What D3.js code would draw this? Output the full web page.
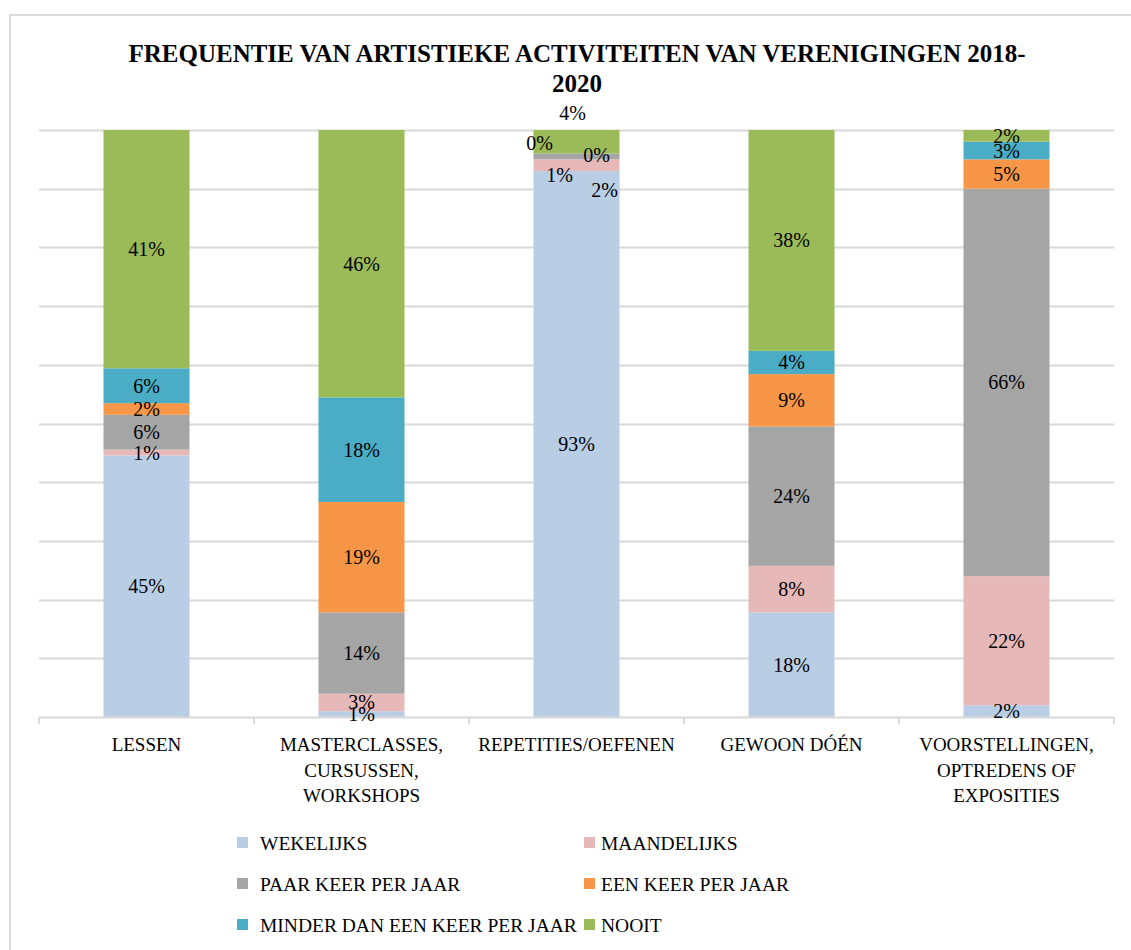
<!DOCTYPE html>
<html>
<head>
<meta charset="utf-8">
<script src="https://cdn.jsdelivr.net/npm/d3@7"></script>
<style>
  body { margin: 0; background: #fff; }
  text { font-family: "Liberation Serif", "DejaVu Serif", serif; fill: #000; }
</style>
</head>
<body>
<div id="chart"></div>
<script>
const categories = [
  "LESSEN",
  "MASTERCLASSES, CURSUSSEN, WORKSHOPS",
  "REPETITIES/OEFENEN",
  "GEWOON DÓÉN",
  "VOORSTELLINGEN, OPTREDENS OF EXPOSITIES"
];
const categoryLines = [
  ["LESSEN"],
  ["MASTERCLASSES,", "CURSUSSEN,", "WORKSHOPS"],
  ["REPETITIES/OEFENEN"],
  ["GEWOON DÓÉN"],
  ["VOORSTELLINGEN,", "OPTREDENS OF", "EXPOSITIES"]
];
const seriesNames = [
  "WEKELIJKS",
  "MAANDELIJKS",
  "PAAR KEER PER JAAR",
  "EEN KEER PER JAAR",
  "MINDER DAN EEN KEER PER JAAR",
  "NOOIT"
];
const seriesColors = ["#B9CDE5", "#E6B9B8", "#A5A5A5", "#F79646", "#4BACC6", "#9BBB59"];

// percentages per category, one array per series
const wekelijks    = [45, 1, 93, 18, 2];
const maandelijks  = [1, 3, 2, 8, 22];
const paarKeer     = [6, 14, 1, 24, 66];
const eenKeer      = [2, 19, 0, 9, 5];
const minderDanEen = [6, 18, 0, 4, 3];
const nooit        = [41, 46, 4, 38, 2];
const seriesValues = [wekelijks, maandelijks, paarKeer, eenKeer, minderDanEen, nooit];

const title = ["FREQUENTIE VAN ARTISTIEKE ACTIVITEITEN VAN VERENIGINGEN 2018-", "2020"];

// manual label nudges (px) for the crowded REPETITIES bar: [dx, dy] per series
const labelNudge = {
  2: [[0, 0], [28, 25], [-17, 19], [20, 2], [-37, -10], [-4, -29]]
};

const width = 1131, height = 950;
const margin = { top: 130, right: 17, bottom: 233, left: 39 };

const svg = d3.select("#chart").append("svg")
  .attr("width", width)
  .attr("height", height);

// outer chart border
svg.append("rect")
  .attr("x", 10).attr("y", 15)
  .attr("width", width + 20).attr("height", height + 20)
  .attr("fill", "none")
  .attr("stroke", "#d9d9d9")
  .attr("stroke-width", 2);

const table = categories.map((c, i) => {
  const row = { category: c, index: i };
  seriesNames.forEach((s, j) => { row[s] = seriesValues[j][i]; });
  return row;
});

const stack = d3.stack()
  .keys(seriesNames)
  .offset(d3.stackOffsetExpand);
const stacked = stack(table);

const x = d3.scaleBand()
  .domain(categories)
  .range([margin.left, width - margin.right])
  .paddingInner(0.6)
  .paddingOuter(0.3);

const y = d3.scaleLinear()
  .domain([0, 1])
  .range([height - margin.bottom, margin.top]);

const color = d3.scaleOrdinal().domain(seriesNames).range(seriesColors);

// gridlines
svg.append("g")
  .selectAll("line")
  .data(d3.range(0.1, 1.01, 0.1))
  .join("line")
  .attr("x1", margin.left)
  .attr("x2", width - margin.right)
  .attr("y1", d => Math.round(y(d)) + 0.5)
  .attr("y2", d => Math.round(y(d)) + 0.5)
  .attr("stroke", "#d9d9d9")
  .attr("stroke-width", 2);

// bars
svg.append("g")
  .selectAll("g")
  .data(stacked)
  .join("g")
  .attr("fill", d => color(d.key))
  .selectAll("rect")
  .data(d => d)
  .join("rect")
  .attr("x", d => x(d.data.category))
  .attr("y", d => y(d[1]))
  .attr("width", x.bandwidth())
  .attr("height", d => y(d[0]) - y(d[1]));

// x axis: line + ticks at band boundaries
const axisY = height - margin.bottom;
const x0 = margin.left;
const xAxis = svg.append("g");
xAxis.append("line")
  .attr("x1", x0).attr("x2", width - margin.right)
  .attr("y1", axisY + 0.5).attr("y2", axisY + 0.5)
  .attr("stroke", "#d9d9d9").attr("stroke-width", 2);
xAxis.selectAll(".tick")
  .data(d3.range(categories.length + 1))
  .join("line")
  .attr("class", "tick")
  .attr("x1", i => x0 + i * (width - margin.right - x0) / categories.length)
  .attr("x2", i => x0 + i * (width - margin.right - x0) / categories.length)
  .attr("y1", axisY).attr("y2", axisY + 7)
  .attr("stroke", "#d9d9d9").attr("stroke-width", 2);

// category labels
svg.append("g")
  .selectAll("text")
  .data(categories)
  .join("text")
  .attr("x", d => x(d) + x.bandwidth() / 2)
  .attr("y", axisY + 34)
  .attr("text-anchor", "middle")
  .style("font-size", "19px")
  .each(function (d, i) {
    d3.select(this).selectAll("tspan")
      .data(categoryLines[i])
      .join("tspan")
      .attr("x", x(d) + x.bandwidth() / 2)
      .attr("dy", (t, k) => k === 0 ? 0 : 25.5)
      .text(t => t);
  });

// data labels
const labels = svg.append("g");
stacked.forEach((layer, j) => {
  labels.selectAll(null)
    .data(layer)
    .join("text")
    .attr("x", d => {
      const n = labelNudge[d.data.index];
      return x(d.data.category) + x.bandwidth() / 2 + (n ? n[j][0] : 0);
    })
    .attr("y", d => {
      const n = labelNudge[d.data.index];
      return (y(d[0]) + y(d[1])) / 2 + (n ? n[j][1] : 0);
    })
    .attr("dy", "0.35em")
    .attr("text-anchor", "middle")
    .style("font-size", "20px")
    .text(d => d.data[layer.key] + "%");
});

// title
svg.append("text")
  .attr("x", 577)
  .attr("y", 62)
  .attr("text-anchor", "middle")
  .style("font-size", "25px")
  .style("font-weight", "bold")
  .selectAll("tspan")
  .data(title)
  .join("tspan")
  .attr("x", 577)
  .attr("dy", (t, k) => k === 0 ? 0 : 30)
  .text(t => t);

// legend
const legendCols = [237, 584];
const legendRows = [843, 884, 925];
const legend = svg.append("g")
  .selectAll("g")
  .data(seriesNames)
  .join("g")
  .attr("transform", (d, i) => `translate(${legendCols[i % 2]},${legendRows[Math.floor(i / 2)]})`);
legend.append("rect")
  .attr("x", 0).attr("y", -6)
  .attr("width", 11).attr("height", 11)
  .attr("fill", d => color(d));
legend.append("text")
  .attr("x", (d, i) => i % 2 === 0 ? 23 : 17)
  .attr("y", 0)
  .attr("dy", "0.35em")
  .style("font-size", "19.5px")
  .text(d => d);
</script>
</body>
</html>
